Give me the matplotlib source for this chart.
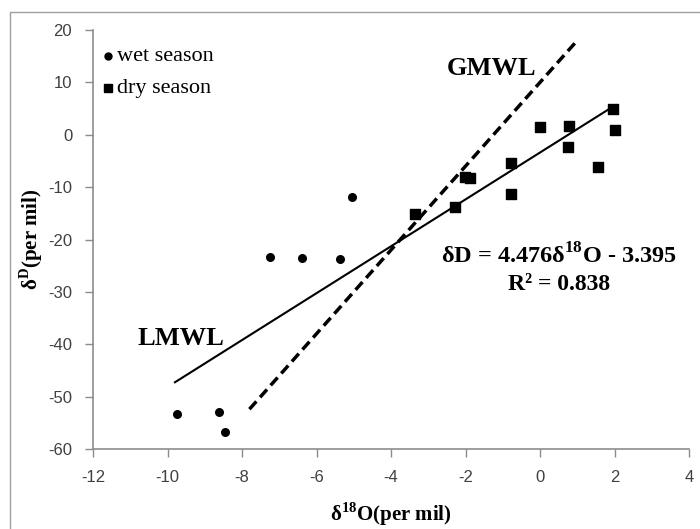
import matplotlib
matplotlib.use('Agg')
import matplotlib.pyplot as plt
from matplotlib.lines import Line2D

plt.rcParams['mathtext.fontset'] = 'custom'
plt.rcParams['mathtext.rm'] = 'Liberation Serif'
plt.rcParams['mathtext.bf'] = 'Liberation Serif:bold'
plt.rcParams['axes.unicode_minus'] = False

# wet season samples (delta 18O, delta D)
wet_o18 = [-9.75, -8.62, -8.46, -7.25, -6.4, -5.38, -5.05]
wet_dd = [-53.3, -52.9, -56.7, -23.4, -23.6, -23.7, -11.9]

# dry season samples
dry_o18 = [-3.35, -2.27, -2.01, -1.87, -0.77, -0.77, 0.0, 0.79, 0.74, 1.56, 1.96, 2.02]
dry_dd = [-15.2, -13.7, -8.0, -8.3, -5.3, -11.4, 1.5, 1.6, -2.4, -6.1, 4.9, 0.9]

# local meteoric water line: dD = 4.476 d18O - 3.395
lmwl_slope, lmwl_icept = 4.476, -3.395
lmwl_x = [-9.8, 2.0]
# global meteoric water line: dD = 8 d18O + 10
gmwl_slope, gmwl_icept = 8.0, 10.0
gmwl_x = [-7.8, 1.0]

x_ticks = [-12, -10, -8, -6, -4, -2, 0, 2, 4]
y_ticks = [-60, -50, -40, -30, -20, -10, 0, 10, 20]

serif = 'Liberation Serif'
grey = '#8c8c8c'

fig = plt.figure(figsize=(7.0, 5.29), dpi=100)
ax = fig.add_axes([93 / 700, 1 - 449 / 529, (689 - 93) / 700, (449 - 30) / 529])

# outer chart border, only top and left edges fall inside the image
top = 1 - 12 / 529
left = 10 / 700
fig.lines.append(Line2D([left, left, 1.0], [0.0, top, top], transform=fig.transFigure,
                        color='#a0a0a0', linewidth=1.0))

ax.scatter(wet_o18, wet_dd, s=30, marker='o', color='black', zorder=3)
ax.scatter(dry_o18, dry_dd, s=45, marker='s', color='black', zorder=3)

ax.plot(lmwl_x, [lmwl_slope * x + lmwl_icept for x in lmwl_x], color='black', lw=1.5)
ax.plot(gmwl_x, [gmwl_slope * x + gmwl_icept for x in gmwl_x], color='black',
        lw=2.5, ls=(0, (3, 1.6)))

ax.set_xlim(-12, 4)
ax.set_ylim(-60, 20)
ax.set_xticks(x_ticks)
ax.set_yticks(y_ticks)
for s in ['top', 'right']:
    ax.spines[s].set_visible(False)
for s in ['left', 'bottom']:
    ax.spines[s].set_color(grey)
    ax.spines[s].set_linewidth(1.2)
ax.tick_params(direction='out', length=6, width=1.0, color=grey,
               labelsize=12, labelcolor='#404040', pad=9)
for lab in ax.get_xticklabels() + ax.get_yticklabels():
    lab.set_fontfamily('Liberation Sans')

ax.set_xlabel('δ$^{\\mathbf{18}}$O(per mil)', family=serif, fontweight='bold',
              fontsize=15, labelpad=11)
ax.set_ylabel('δ$^{\\mathbf{D}}$(per mil)', family=serif, fontweight='bold',
              fontsize=15, labelpad=2)

# legend drawn as text rows
ax.plot([-11.6], [15.0], 'o', color='black', ms=5, clip_on=False)
ax.text(-11.35, 15.0, 'wet season', family=serif, fontsize=16, va='center')
ax.plot([-11.6], [8.9], 's', color='black', ms=6, clip_on=False)
ax.text(-11.35, 8.9, 'dry season', family=serif, fontsize=16, va='center')

ax.text(-2.5, 12.6, 'GMWL', family=serif, fontweight='bold', fontsize=19, va='center')
ax.text(-10.8, -38.9, 'LMWL', family=serif, fontweight='bold', fontsize=19, va='center')
ax.text(0.5, -23.2, 'δD = 4.476δ$^{\\mathbf{18}}$O - 3.395', family=serif,
        fontweight='bold', fontsize=17.5, ha='center', va='center')
ax.text(0.5, -28.6, 'R² = 0.838', family=serif, fontweight='bold', fontsize=17,
        ha='center', va='center')

fig.savefig('out.png', dpi=100)
